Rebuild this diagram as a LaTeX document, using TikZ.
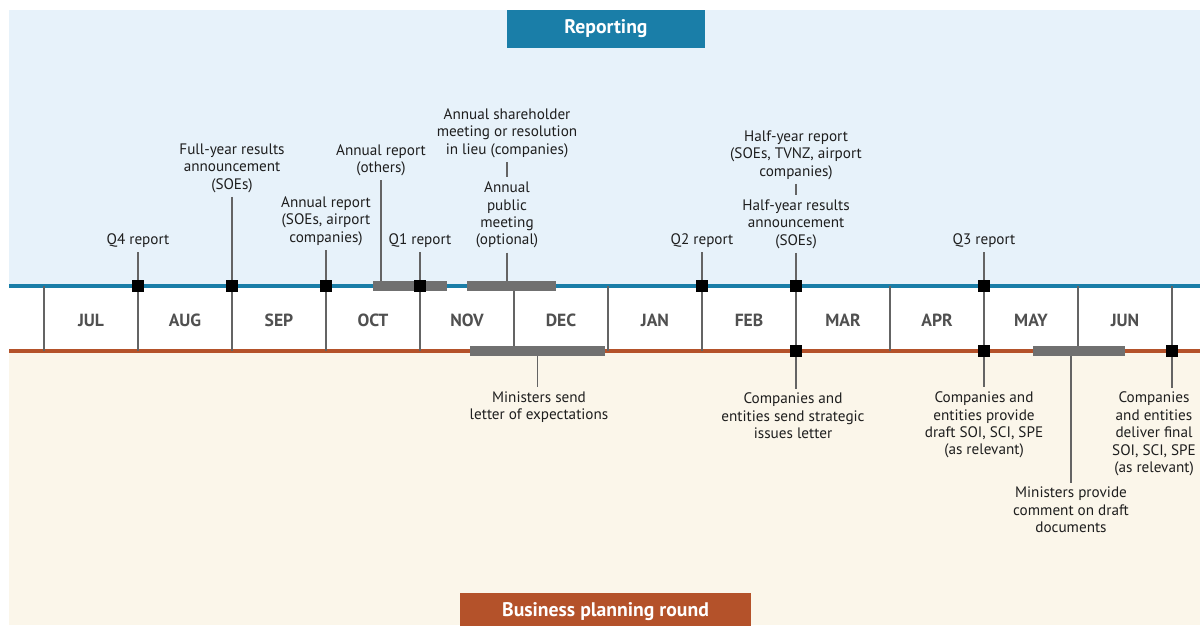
\documentclass[tikz,border=0pt]{standalone}
\usepackage{fontspec}
\setmainfont{PT Sans}
\usetikzlibrary{positioning,calc}
\definecolor{softblue}{RGB}{231,242,250}
\definecolor{softbeige}{RGB}{251,246,234}
\definecolor{reportblue}{RGB}{26,126,168}
\definecolor{planrust}{RGB}{180,82,42}
\definecolor{bargrey}{RGB}{112,112,112}
\definecolor{rulegrey}{RGB}{100,100,100}
\definecolor{textgrey}{RGB}{30,30,30}
\definecolor{monthgrey}{RGB}{80,80,80}

\begin{document}
\begin{tikzpicture}[x=0.025cm, y=-0.025cm,
    every node/.style={font=\fontsize{10.8}{12.4}\selectfont, text=textgrey},
    lbl/.style={align=center, inner sep=3pt},
    msq/.style={fill=black, minimum size=8.5pt, inner sep=0pt},
    conn/.style={draw=rulegrey, line width=1.3pt},
    gbar/.style={fill=bargrey, minimum height=7pt, inner sep=0pt},
    month/.style={font=\fontsize{12.5}{14}\selectfont\bfseries, text=monthgrey},
    header/.style={text=white, font=\fontsize{14}{16}\selectfont\bfseries, minimum height=0.95cm}]
  \useasboundingbox (0,0) rectangle (1200,625);
  \fill[softblue] (9,10) rectangle (1200,286);
  \fill[white] (9,286) rectangle (1200,351);
  \fill[softbeige] (9,351) rectangle (1200,625);
  \draw[reportblue, line width=3.5pt] (9,286) -- (1200,286);
  \draw[planrust, line width=3.5pt] (9,351) -- (1200,351);
  \foreach \i in {0,...,12}
    \draw[conn] ({44+94*\i},286) -- ({44+94*\i},351);
  \foreach \m [count=\i from 0] in {JUL,AUG,SEP,OCT,NOV,DEC,JAN,FEB,MAR,APR,MAY,JUN}
    \node[month] (m\i) at ({91+94*\i},320) {\m};

  \node[header, fill=reportblue, minimum width=4.95cm] (rephead) at (606,29) {Reporting};
  \node[header, fill=planrust, minimum width=7.275cm] (planhead) at (605.5,612) {Business planning round};

  \node[gbar, minimum width=1.85cm] (obar) at (410,286) {};
  \node[gbar, minimum width=2.225cm] (nbar) at (511.5,286) {};
  \node[gbar, minimum width=3.375cm] (lbar) at (537.5,351) {};
  \node[gbar, minimum width=2.3cm] (mbar) at (1079,351) {};

  \node[lbl] (q4lbl) at (138,241) {Q4 report};
  \node[lbl] (fylbl) at (232,168) {Full-year results\\announcement\\(SOEs)};
  \node[lbl] (arlbl) at (326,221) {Annual report\\(SOEs, airport\\companies)};
  \node[lbl] (aolbl) at (381,160) {Annual report\\(others)};
  \node[lbl] (q1lbl) at (420,241) {Q1 report};
  \node[lbl] (aslbl) at (507,133) {Annual shareholder\\meeting or resolution\\in lieu (companies)};
  \node[lbl] (aplbl) at (507,215) {Annual\\public\\meeting\\(optional)};
  \node[lbl] (q2lbl) at (702,241) {Q2 report};
  \node[lbl] (hylbl) at (796,155) {Half-year report\\(SOEs, TVNZ, airport\\companies)};
  \node[lbl] (hrlbl) at (796,224) {Half-year results\\announcement\\(SOEs)};
  \node[lbl] (q3lbl) at (984,241) {Q3 report};

  \node[lbl] (molbl) at (539,407) {Ministers send\\letter of expectations};
  \node[lbl] (silbl) at (793,416) {Companies and\\entities send strategic\\issues letter};
  \node[lbl] (drlbl) at (984,425) {Companies and\\entities provide\\draft SOI, SCI, SPE\\(as relevant)};
  \node[lbl] (fnlbl) at (1154,434) {Companies\\and entities\\deliver final\\SOI, SCI, SPE\\(as relevant)};
  \node[lbl] (cmlbl) at (1071,510) {Ministers provide\\comment on draft\\documents};

  \node[msq] (q4mk) at (138,286) {};
  \node[msq] (fymk) at (232,286) {};
  \node[msq] (armk) at (326,286) {};
  \node[msq] (q1mk) at (420,286) {};
  \node[msq] (q2mk) at (702,286) {};
  \node[msq] (hrmk) at (796,286) {};
  \node[msq] (q3mk) at (984,286) {};
  \node[msq] (simk) at (796,351) {};
  \node[msq] (drmk) at (984,351) {};
  \node[msq] (fnmk) at (1172,351) {};

  \draw[conn] (q4lbl) -- (q4mk);
  \draw[conn] (fylbl) -- (fymk);
  \draw[conn] (arlbl) -- (armk);
  \draw[conn] (aolbl) -- (aolbl |- obar.north);
  \draw[conn] (q1lbl) -- (q1mk);
  \draw[conn] (aslbl) -- (aplbl);
  \draw[conn] (aplbl) -- (aplbl |- nbar.north);
  \draw[conn] (q2lbl) -- (q2mk);
  \draw[conn] (hylbl) -- (hrlbl);
  \draw[conn] (hrlbl) -- (hrmk);
  \draw[conn] (q3lbl) -- (q3mk);
  \draw[conn] (lbar.south) -- (lbar.south |- molbl.north);
  \draw[conn] (simk) -- (simk |- silbl.north);
  \draw[conn] (drmk) -- (drlbl);
  \draw[conn] (fnmk) -- (fnmk |- fnlbl.north);
  \draw[conn] (cmlbl.north |- mbar.south) -- (cmlbl);
\end{tikzpicture}
\end{document}
